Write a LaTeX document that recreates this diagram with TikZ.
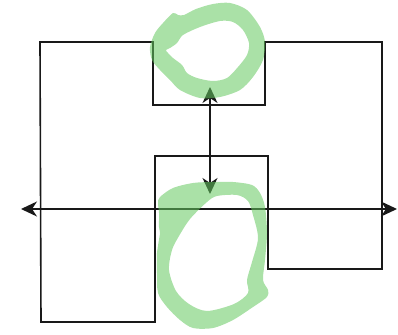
\documentclass[tikz,border=0pt]{standalone}
\usetikzlibrary{arrows.meta}
\definecolor{hl}{RGB}{100,200,95}
\definecolor{ink}{RGB}{25,25,25}
\tikzset{
  outline/.style={draw=ink, line width=1.6pt, line join=miter},
  tip/.style={Stealth[length=16pt,width=15pt,inset=5pt]},
  axis/.style={draw=ink, line width=1.6pt, {Stealth[length=16pt,width=15pt,inset=5pt]}-{Stealth[length=16pt,width=15pt,inset=5pt]}},
  marker/.style={fill=hl, fill opacity=0.55, even odd rule}
}
\begin{document}
\begin{tikzpicture}[x=1pt,y=-1pt]
\useasboundingbox (0,0) rectangle (398,334);
% outline shape
\draw[outline] (40,42) -- (153,42) -- (153,105) -- (265,105) -- (265,42) -- (382,42)
  -- (382,269) -- (268,269) -- (268,156) -- (155,156) -- (155,322) -- (41,322) -- cycle;
% arrows
\coordinate (hleft) at (21,209);
\coordinate (hright) at (397,209);
\coordinate (vtop) at (210,87);
\coordinate (vbot) at (210,194);
\draw[axis] (hleft) -- (hright);
\draw[axis] (vtop) -- (vbot);
% green highlights (ring = outer boundary minus inner boundary)
\fill[marker]
  plot[smooth cycle, tension=0.5] coordinates {
    (173,13) (178,15) (184,15) (196,9) (213,4) (230,3) (247,10) (260,27) (265,42)
    (263,60) (253,77) (240,90) (220,97) (200,98) (180,90) (170,80) (160,70)
    (152,60) (150,47) (155,33) (163,23)}
  plot[smooth cycle, tension=0.5] coordinates {
    (170,48) (177,43) (183,35) (200,27) (220,21) (233,22) (243,30) (249,43)
    (247,55) (238,67) (227,78) (213,81) (197,78) (187,73) (182,65) (173,58)
    (168,53) (166,50)};
\fill[marker]
  plot[smooth cycle, tension=0.5] coordinates {
    (160,197) (173,188) (193,183) (213,182) (233,182) (252,185) (260,193)
    (265,207) (267,233) (265,260) (263,280) (268,290) (267,297) (253,307)
    (233,320) (213,328) (193,328) (180,320) (167,307) (158,293) (157,273)
    (157,253) (160,233) (159,227) (159,213) (158,203)}
  plot[smooth cycle, tension=0.5] coordinates {
    (207,202) (217,196) (237,195) (248,201) (253,215) (258,238) (252,262)
    (247,280) (248,293) (234,304) (207,311) (189,304) (176,291) (169,270)
    (172,250) (179,236) (190,219)};
\end{tikzpicture}
\end{document}
